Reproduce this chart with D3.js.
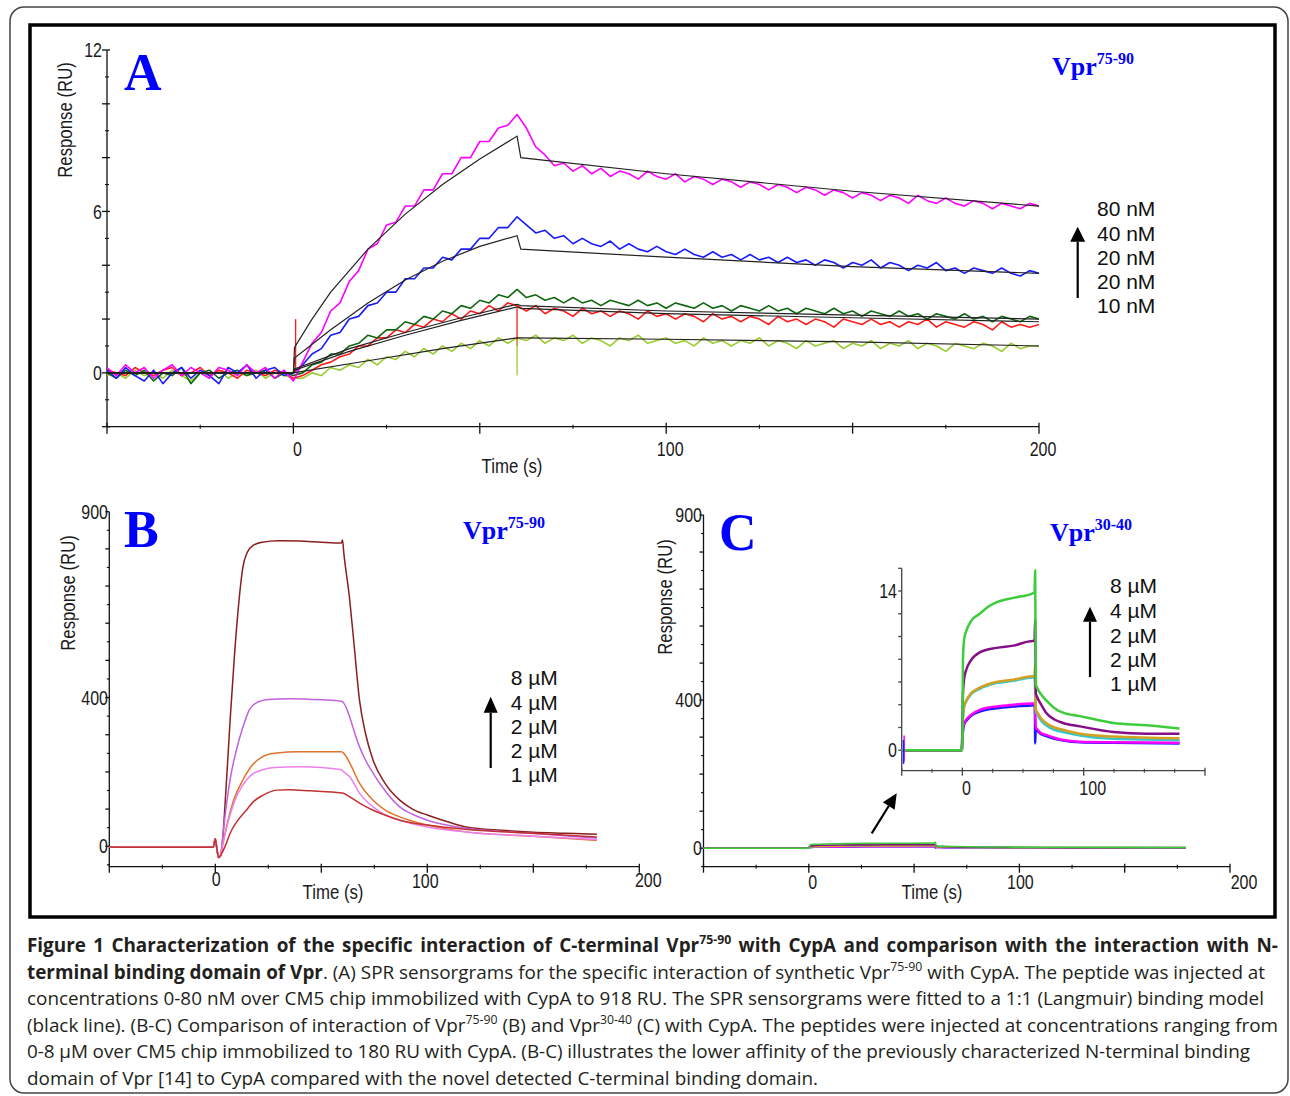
<!DOCTYPE html>
<html><head><meta charset="utf-8">
<script src="https://cdn.jsdelivr.net/npm/d3@7"></script>
<style>body{margin:0;background:#fff}svg{display:block}</style>
</head><body>
<svg id="c" width="1290" height="1096"></svg>
<script>
// ================= DATA =================
// Panel A: time grid (s) and noisy sensorgrams (RU)
const timeA = d3.range(-50, 200.001, 2.5);
const a80 = [0.2,-0.1,0.3,0.0,0.2,-0.2,0.1,0.3,-0.1,0.2,0.0,-0.2,0.2,0.1,-0.1,0.3,0.0,0.2,-0.2,0.1,-0.3,
  0.4,1.1,1.5,2.3,2.6,3.4,3.8,4.6,4.8,5.5,5.6,6.2,6.2,6.8,6.8,7.4,7.4,8.0,8.0,8.6,8.6,9.1,9.2,9.6,
  9.1,8.4,8.1,7.7,7.8,7.5,7.7,7.4, 7.6,7.3,7.5,7.4,7.2,7.5,7.3,7.2, 7.4,7.1,7.3,7.2,7.0,7.2,7.1,6.9,
  7.1,7.0,6.8,7.0,6.9,6.7,6.9,6.8, 6.6,6.8,6.7,6.5,6.7,6.6,6.4,6.6, 6.5,6.3,6.6,6.4,6.3,6.5,6.3,6.2,
  6.4,6.3,6.1,6.3,6.2,6.1,6.3,6.2];
const a40 = [0.1,-0.2,0.2,-0.1,-0.3,0.1,-0.4,0.0,0.2,-0.2,0.1,-0.1,-0.4,0.2,0.0,0.3,-0.2,0.1,0.2,-0.1,0.0,
  0.3,0.7,0.9,1.4,1.5,2.0,2.1,2.5,2.6,3.0,3.0,3.5,3.5,3.9,3.9,4.3,4.2,4.6,4.6,5.0,5.0,5.4,5.4,5.8,
  5.5,5.2,5.3,5.0,5.1,4.8,5.0,4.8, 4.7,4.9,4.6,4.8,4.6,4.5,4.7,4.5, 4.4,4.6,4.4,4.3,4.5,4.3,4.4,4.2,
  4.4,4.2,4.3,4.1,4.3,4.1,4.2,4.0, 4.2,4.1,3.9,4.1,4.0,4.2,3.9,4.1, 4.0,3.8,4.0,3.9,4.1,3.8,3.9,3.7,
  3.9,3.8,3.7,3.9,3.7,3.6,3.8,3.7];
const a20g = [0.0,-0.2,0.1,-0.1,0.1,-0.3,0.0,-0.1,0.2,-0.4,0.0,0.1,-0.2,0.0,0.1,-0.1,0.0,0.1,-0.2,0.0,-0.1,
  0.0,0.3,0.4,0.7,0.7,1.0,1.1,1.4,1.3,1.6,1.6,1.9,1.8,2.1,2.0,2.3,2.2,2.5,2.4,2.7,2.6,2.9,2.8,3.1,
  2.8,2.9,2.7,2.8,2.6,2.8,2.6,2.7, 2.5,2.7,2.6,2.5,2.7,2.5,2.6,2.4, 2.6,2.5,2.4,2.6,2.4,2.5,2.3,2.5,
  2.4,2.3,2.5,2.3,2.4,2.2,2.4,2.3, 2.2,2.4,2.2,2.3,2.1,2.3,2.2,2.1, 2.3,2.1,2.2,2.0,2.2,2.1,2.0,2.2,
  2.0,2.1,1.9,2.1,2.0,1.9,2.1,2.0];
const a20r = [0.1,0.0,-0.1,0.2,0.0,-0.1,0.1,0.2,-0.1,0.0,0.2,-0.1,0.1,0.0,-0.2,0.1,0.0,-0.1,0.1,0.0,-0.2,
  -0.1,0.1,0.3,0.4,0.6,0.7,1.0,1.0,1.3,1.3,1.6,1.5,1.8,1.7,2.0,1.9,2.2,2.0,2.3,2.2,2.5,2.3,2.6,2.5,
  2.3,2.5,2.2,2.4,2.3,2.1,2.4,2.2, 2.3,2.1,2.3,2.2,2.0,2.3,2.1,2.2, 2.0,2.2,2.1,1.9,2.2,2.0,2.1,1.9,
  2.1,2.0,1.8,2.1,1.9,2.0,1.8,2.0, 1.9,1.7,2.0,1.9,1.8,2.0,1.8,1.9, 1.7,1.9,1.8,2.0,1.7,1.9,1.8,1.7,
  1.9,1.8,1.6,1.9,1.7,1.8,1.7,1.8];
const a10 = [-0.1,0.0,-0.2,0.1,-0.1,0.0,-0.2,0.1,-0.1,-0.3,0.0,-0.1,0.1,-0.2,0.0,-0.1,0.1,-0.2,0.0,-0.1,-0.2,
  -0.2,0.0,-0.1,0.2,0.1,0.3,0.2,0.5,0.3,0.6,0.5,0.8,0.6,0.9,0.7,1.0,0.8,1.1,0.9,1.2,1.0,1.3,1.1,1.3,
  1.2,1.4,1.1,1.3,1.2,1.4,1.1,1.3, 1.2,1.0,1.3,1.2,1.4,1.1,1.2,1.3, 1.1,1.2,1.0,1.3,1.1,1.2,1.0,1.2,
  1.1,1.3,1.0,1.2,1.1,0.9,1.2,1.0, 1.1,1.2,0.9,1.1,1.0,1.2,0.9,1.1, 1.0,1.2,0.9,1.1,1.0,0.8,1.1,1.0,
  0.9,1.1,1.0,0.8,1.1,0.9,1.0,1.0];
// Panel A: spikes (time, from, to)
const spikesA = [{key:"a20r", t:0.6, v0:0, v1:2.0}, {key:"a20r", t:60, v0:2.4, v1:1.0}, {key:"a10", t:60, v0:1.2, v1:-0.1}];
// Panel A: 1:1 Langmuir fits [time, RU]
const fit80 = [[-50,0],[0,0],[0.3,0.95],[5,2.0],[10,3.0],[15,3.8],[20,4.6],[30,5.9],[40,7.0],[50,7.95],[60,8.8],[61,8.0],[100,7.4],[150,6.75],[200,6.2]];
const fit40 = [[-50,0],[0,0],[0.3,0.55],[10,1.6],[20,2.6],[30,3.45],[40,4.15],[50,4.7],[60,5.1],[61,4.6],[100,4.3],[150,3.95],[200,3.7]];
const fit20a = [[-50,0],[0,0],[0.3,0.15],[15,0.9],[30,1.5],[45,2.05],[60,2.55],[61,2.5],[100,2.3],[150,2.15],[200,2.0]];
const fit20b = [[-50,0],[0,0],[0.3,0.1],[15,0.8],[30,1.4],[45,1.95],[60,2.45],[61,2.4],[100,2.2],[150,2.05],[200,1.9]];
const fit10 = [[-50,0],[0,0],[20,0.45],[40,0.9],[60,1.3],[61,1.3],[100,1.25],[150,1.15],[200,1.0]];
const legendA = ["80 nM","40 nM","20 nM","20 nM","10 nM"];

// Panel B: Vpr75-90 0-8 µM [time, RU]
const baseB = [[-50,-2],[-30,-3],[-10,-3],[-1,-3],[0,20],[0.7,-5],[1.5,-30],[2.5,-25]];
const b8 = baseB.concat([[3,-10],[5,150],[7,340],[9,510],[11,650],[13,750],[15,790],[18,810],[22,818],[30,822],[40,821],[50,818],[59.5,816],[60,824],[60.6,790],[63.4,663],[65.5,540],[68,394],[71,300],[74.4,232],[80,170],[87,124],[93,100],[100,84],[110,65],[119,51],[135,43],[150,38],[165,35],[180,32]]);
const b4 = baseB.concat([[3,0],[5,100],[7,180],[10,260],[13,320],[16,366],[20,388],[25,395],[35,397],[50,394],[59.5,390],[60.6,385],[63.4,348],[66,300],[68,268],[71,230],[74.4,197],[80,150],[87,106],[93,86],[100,70],[119,48],[135,40],[150,34],[165,28],[180,22]]);
const b2o = baseB.concat([[3,-10],[6,70],[9,130],[13,178],[17,215],[22,240],[28,250],[40,254],[59.5,254],[60.6,250],[63.4,224],[68,170],[74.4,124],[80,98],[87,79],[100,57],[119,38],[150,27],[180,16]]);
const b2p = baseB.concat([[3,-10],[6,65],[9,120],[13,165],[17,192],[22,205],[28,212],[40,214],[50,212],[59.5,206],[60.6,200],[63.4,187],[68,143],[74.4,106],[80,85],[87,70],[100,52],[119,38],[150,27],[180,18]]);
const b1 = baseB.concat([[3,-20],[5,5],[7,35],[10,65],[14.6,97],[18,120],[22.4,137],[29,151],[35,152],[45,149],[55,146],[60,143],[63.4,133],[68,116],[74.4,97],[80,84],[87,70],[100,57],[119,45],[150,35],[180,25]]);
const legendBC = ["8 µM","4 µM","2 µM","2 µM","1 µM"];

// Panel C: Vpr30-40 0-8 µM [time, RU]
const c8 = [[-50,0],[-0.5,0],[0,0.2],[0.5,8.0],[1.5,9.8],[3.3,10.5],[7.4,11.4],[14.3,12.0],[21,12.6],[28,13.0],[42,13.4],[58,13.8],[59.5,13.9],[60,15.8],[60.6,5.8],[62,5.4],[65,4.9],[69,4.4],[76,3.7],[83,3.3],[97,3.0],[110,2.7],[124.5,2.4],[152,2.2],[179,1.9]];
const c4 = [[-50,0],[-0.5,0],[0.5,5.0],[1.5,6.3],[3.3,7.1],[7,7.9],[14.3,8.6],[28,9.0],[42,9.2],[58,9.6],[59.5,9.6],[60,11.5],[60.6,5.0],[62,4.6],[65,4.0],[69,3.3],[76,2.7],[83,2.4],[97,2.1],[124.5,1.6],[152,1.45],[179,1.45]];
const c2g = [[-50,0],[-0.5,0],[0.5,3.0],[1.5,3.9],[3.3,4.4],[7,5.0],[14.3,5.5],[28,6.0],[42,6.2],[58,6.5],[59.5,6.5],[60,7.5],[60.6,3.6],[62,3.3],[65,2.8],[69,2.4],[76,2.0],[83,1.8],[97,1.45],[124.5,1.2],[179,1.05]];
const c2c = [[-50,0],[-0.5,0],[0.5,2.9],[1.5,3.8],[3.3,4.3],[7,4.9],[14.3,5.4],[28,5.9],[42,6.1],[58,6.4],[59.5,6.4],[60.6,3.4],[62,3.1],[65,2.6],[69,2.2],[76,1.8],[83,1.6],[97,1.3],[124.5,1.0],[179,0.9]];
const c1m = [[-50,0],[-0.5,0],[0.5,1.8],[1.5,2.4],[3.3,2.7],[7,3.1],[14.3,3.55],[28,3.85],[42,4.0],[58,4.1],[59.5,4.1],[60.6,2.0],[62,1.8],[65,1.5],[69,1.35],[76,1.1],[83,0.9],[97,0.75],[124.5,0.7],[179,0.65]];
const c1b = [[-50,0],[-0.5,0],[0.5,1.7],[1.5,2.3],[3.3,2.6],[7,3.0],[14.3,3.4],[28,3.7],[42,3.85],[58,3.95],[59.8,4.0],[60,0.6],[60.5,1.9],[62,1.7],[65,1.4],[69,1.25],[76,1.0],[83,0.85],[97,0.7],[124.5,0.65],[179,0.6]];
const spikesC = [{key:"c1m", t:-48, v0:-1.0, v1:1.3}, {key:"c1b", t:-48.5, v0:-1.2, v1:0.9}];

// ================= RENDER =================
const svg = d3.select("#c");
svg.append("rect").attr("width",1290).attr("height",1096).attr("fill","#fff");
svg.append("rect").attr("x",10).attr("y",7).attr("width",1278).attr("height",1086).attr("rx",14)
  .attr("fill","none").attr("stroke","#444").attr("stroke-width",1.5);
svg.append("rect").attr("x",30).attr("y",25).attr("width",1245).attr("height",892)
  .attr("fill","none").attr("stroke","#000").attr("stroke-width",3.5);

const SANS = "'Liberation Sans', Arial, sans-serif";
const SERIF = "'Liberation Serif', 'Times New Roman', serif";

function label(g, x, y, s, o = {}) {
  const t = g.append("text")
    .attr("transform", `translate(${x},${y})` + (o.rot ? ` rotate(${o.rot})` : "") + ` scale(${o.sx || 1},1)`)
    .attr("text-anchor", o.anchor || "middle")
    .attr("font-family", o.family || SANS).attr("font-size", o.size || 20)
    .attr("font-weight", o.weight || "normal").attr("fill", o.fill || "#1a1a1a")
    .text(s);
  if (o.dy) t.attr("dy", o.dy);
  return t;
}
function axes(g, x, y, o) {
  const col = o.color || "#111";
  const [x0, x1] = x.domain(), [y0, y1] = y.domain();
  const ya = y(o.xAxisAt !== undefined ? o.xAxisAt : y0);
  const xa = x(x0);
  g.append("line").attr("x1", x(x0)).attr("x2", x(x1)).attr("y1", ya).attr("y2", ya).attr("stroke", col).attr("stroke-width", 1.3);
  g.append("line").attr("x1", xa).attr("x2", xa).attr("y1", y(y0)).attr("y2", y(y1)).attr("stroke", col).attr("stroke-width", 1.3);
  o.xMajor.forEach(v => g.append("line").attr("x1", x(v)).attr("x2", x(v)).attr("y1", ya - o.xMajUp).attr("y2", ya + o.xMajDn).attr("stroke", col).attr("stroke-width", 1.3));
  o.xMinor.forEach(v => g.append("line").attr("x1", x(v)).attr("x2", x(v)).attr("y1", ya - o.xMinUp).attr("y2", ya + o.xMinDn).attr("stroke", col).attr("stroke-width", 1.1));
  o.yMajor.forEach(v => g.append("line").attr("y1", y(v)).attr("y2", y(v)).attr("x1", xa - o.yMajL).attr("x2", xa + o.yMajR).attr("stroke", col).attr("stroke-width", 1.3));
  o.yMinor.forEach(v => g.append("line").attr("y1", y(v)).attr("y2", y(v)).attr("x1", xa - o.yMinL).attr("x2", xa + o.yMinR).attr("stroke", col).attr("stroke-width", 1.1));
}
function arrow(g, x1, y1, x2, y2, len, hw) {
  const dx = x2 - x1, dy = y2 - y1, L = Math.hypot(dx, dy), ux = dx / L, uy = dy / L;
  const bx = x2 - ux * len, by = y2 - uy * len;
  g.append("line").attr("x1", x1).attr("y1", y1).attr("x2", bx).attr("y2", by).attr("stroke", "#000").attr("stroke-width", 2.2);
  g.append("path").attr("d", `M${x2},${y2}L${bx - uy * hw},${by + ux * hw}L${bx + uy * hw},${by - ux * hw}Z`).attr("fill", "#000");
}
function vprTitle(g, x, y, sup) {
  const t = g.append("text").attr("x", x).attr("y", y).attr("font-family", SERIF).attr("font-weight", "bold")
    .attr("fill", "#0000ff").attr("font-size", 26);
  t.append("tspan").text("Vpr");
  t.append("tspan").attr("font-size", 16).attr("dy", -11).text(sup);
}
function bigLetter(g, x, y, s) {
  g.append("text").attr("x", x).attr("y", y).attr("font-family", SERIF).attr("font-weight", "bold")
    .attr("font-size", 52).attr("fill", "#0000ff").text(s);
}
function legend(g, x, ys, items, size) {
  items.forEach((s, i) => g.append("text").attr("x", x).attr("y", ys[i]).attr("font-family", SANS)
    .attr("font-size", size).attr("fill", "#111").text(s));
}

// ---------- Panel A ----------
const gA = svg.append("g");
const xA = d3.scaleLinear().domain([-50, 200]).range([107, 1039]);
const yA = d3.scaleLinear().domain([-2, 12]).range([426.7, 50]);
axes(gA, xA, yA, {xMajor:[-50,0,50,100,150,200], xMinor:[-25,25,75,125,175], xMajUp:4, xMajDn:7, xMinUp:2, xMinDn:2,
  yMajor:[-2,0,2,4,6,8,10,12], yMinor:[-1,1,3,5,7,9,11], yMajL:5, yMajR:3, yMinL:2, yMinR:2});
[12,6,0].forEach(v => label(gA, 102, yA(v), v, {anchor:"end", sx:0.8, dy:"0.36em"}));
[0,100,200].forEach(v => label(gA, xA(v) + 4, 456, v, {sx:0.8}));
label(gA, 512, 473, "Time (s)", {sx:0.84});
label(gA, 65, 120, "Response (RU)", {rot:-90, sx:0.84, dy:"0.36em"});

const seriesA = [
  {key:"a10", v:a10, c:"#99cc33"},
  {key:"a20r", v:a20r, c:"#ff1a1a"},
  {key:"a20g", v:a20g, c:"#116611"},
  {key:"a40", v:a40, c:"#1a1aff"},
  {key:"a80", v:a80, c:"#ff00ff"}
];
const lineA = d3.line().x(d => xA(d[0])).y(d => yA(d[1]));
seriesA.forEach(s => {
  const pts = timeA.map((t, i) => [t, s.v[i]]).filter(d => d[1] !== undefined);
  gA.append("path").attr("d", lineA(pts)).attr("fill", "none").attr("stroke", s.c).attr("stroke-width", 1.6).attr("stroke-linejoin", "round");
});
spikesA.forEach(sp => {
  const c = seriesA.find(s => s.key === sp.key).c;
  gA.append("line").attr("x1", xA(sp.t)).attr("x2", xA(sp.t)).attr("y1", yA(sp.v0)).attr("y2", yA(sp.v1)).attr("stroke", c).attr("stroke-width", 1.3);
});
[fit10, fit20b, fit20a, fit40, fit80].forEach(f => {
  gA.append("path").attr("d", lineA(f)).attr("fill", "none").attr("stroke", "#222").attr("stroke-width", 1.2);
});
bigLetter(gA, 124, 90, "A");
vprTitle(gA, 1052, 75, "75-90");
legend(gA, 1097, [216, 240.5, 264.7, 288.7, 313], legendA, 21);
arrow(gA, 1077.7, 298, 1077.7, 226.7, 15, 7.5);

// ---------- Panel B ----------
const gB = svg.append("g");
const xB = d3.scaleLinear().domain([-50, 200]).range([109.3, 639.3]);
const yB = d3.scaleLinear().domain([-55, 900]).range([866.7, 511.7]);
axes(gB, xB, yB, {xMajor:[-50,0,50,100,150,200], xMinor:[-25,25,75,125,175], xMajUp:3, xMajDn:6, xMinUp:2, xMinDn:2,
  yMajor:[0,100,200,300,400,500,600,700,800,900], yMinor:[-50,50,150,250,350,450,550,650,750,850], yMajL:4, yMajR:0, yMinL:2.5, yMinR:0});
[900,400,0].forEach(v => label(gB, 108, yB(v), v, {anchor:"end", sx:0.8, dy:"0.36em"}));
label(gB, xB(0) + 1, 886, 0, {sx:0.8});
label(gB, xB(100) - 2, 888, 100, {sx:0.8});
label(gB, xB(200) + 9, 887, 200, {sx:0.8});
label(gB, 333, 899, "Time (s)", {sx:0.84});
label(gB, 68, 593, "Response (RU)", {rot:-90, sx:0.84, dy:"0.36em"});
const lineB = d3.line().x(d => xB(d[0])).y(d => yB(d[1])).curve(d3.curveMonotoneX);
[{v:b8, c:"#8b1e1e"}, {v:b4, c:"#c062dd"}, {v:b2o, c:"#e0722a"}, {v:b2p, c:"#ee80ee"}, {v:b1, c:"#c23232"}].forEach(s => {
  gB.append("path").attr("d", lineB(s.v)).attr("fill", "none").attr("stroke", s.c).attr("stroke-width", 1.5);
});
bigLetter(gB, 124, 546.7, "B");
vprTitle(gB, 463, 539, "75-90");
legend(gB, 510.7, [685, 709.5, 734, 758.3, 782], legendBC, 21);
arrow(gB, 490.7, 768, 490.7, 696.7, 16, 7);

// ---------- Panel C ----------
const gC = svg.append("g");
const xC = d3.scaleLinear().domain([-50, 200]).range([703.5, 1230]);
const yC = d3.scaleLinear().domain([-50, 900]).range([866.7, 515]);
axes(gC, xC, yC, {xMajor:[-50,0,50,100,150,200], xMinor:[-25,25,75,125,175], xMajUp:3, xMajDn:6, xMinUp:2, xMinDn:2,
  yMajor:[0,100,200,300,400,500,600,700,800,900], yMinor:[-50,50,150,250,350,450,550,650,750,850], yMajL:4, yMajR:0, yMinL:2.5, yMinR:0});
[900,400,0].forEach(v => label(gC, 702, yC(v), v, {anchor:"end", sx:0.8, dy:"0.36em"}));
label(gC, xC(0) + 4, 889, 0, {sx:0.8});
label(gC, xC(100) + 1, 889, 100, {sx:0.8});
label(gC, xC(200) + 14, 889, 200, {sx:0.8});
label(gC, 932, 899, "Time (s)", {sx:0.84});
label(gC, 665, 597, "Response (RU)", {rot:-90, sx:0.84, dy:"0.36em"});
const seriesC = [
  {key:"c1b", v:c1b, c:"#1a1aff"}, {key:"c1m", v:c1m, c:"#ff00ff"},
  {key:"c2c", v:c2c, c:"#33c6cc"}, {key:"c2g", v:c2g, c:"#d4a020"},
  {key:"c4", v:c4, c:"#860f86"}, {key:"c8", v:c8, c:"#3ccc3c"}
];
const lineCm = d3.line().x(d => xC(d[0])).y(d => yC(d[1])).curve(d3.curveMonotoneX);
seriesC.forEach(s => gC.append("path").attr("d", lineCm(s.v)).attr("fill", "none").attr("stroke", s.c).attr("stroke-width", 1.6));
bigLetter(gC, 719, 550, "C");
vprTitle(gC, 1050, 541, "30-40");
arrow(gC, 871.7, 833.3, 896.7, 793.3, 15, 7);

// inset
const gI = svg.append("g");
const xI = d3.scaleLinear().domain([-50, 200]).range([901.7, 1205]);
const yI = d3.scaleLinear().domain([-1.8, 16]).range([770.7, 568.3]);
axes(gI, xI, yI, {color:"#444", xMajor:[-50,0,100,200], xMinor:[-25,25,50,75,125,150,175], xMajUp:3, xMajDn:5, xMinUp:2, xMinDn:2,
  yMajor:[0,2,4,6,8,10,12,14,16], yMinor:[], yMajL:3.5, yMajR:0, yMinL:0, yMinR:0});
label(gI, 897, yI(14), 14, {anchor:"end", sx:0.8, dy:"0.36em"});
label(gI, 897, yI(0), 0, {anchor:"end", sx:0.8, dy:"0.36em"});
label(gI, xI(0) + 4, 795, 0, {sx:0.8});
label(gI, xI(100) + 9, 795, 100, {sx:0.8});
const lineI = d3.line().x(d => xI(d[0])).y(d => yI(d[1])).curve(d3.curveMonotoneX);
seriesC.forEach(s => gI.append("path").attr("d", lineI(s.v)).attr("fill", "none").attr("stroke", s.c).attr("stroke-width", 2.5));
spikesC.forEach(sp => {
  const c = seriesC.find(s => s.key === sp.key).c;
  gI.append("line").attr("x1", xI(sp.t)).attr("x2", xI(sp.t)).attr("y1", yI(sp.v0)).attr("y2", yI(sp.v1)).attr("stroke", c).attr("stroke-width", 1.5);
});
legend(gI, 1110, [593.3, 618, 642.5, 666.5, 690.5], legendBC, 21);
arrow(gI, 1090, 677, 1090, 606.7, 15, 7);

// ---------- Caption ----------
const capLines = [
  [{t:"Figure 1 Characterization of the specific interaction of C-terminal Vpr",b:1},{t:"75-90",b:1,sup:1},{t:" with CypA and comparison with the interaction with N-",b:1}],
  [{t:"terminal binding domain of Vpr",b:1},{t:". (A) SPR sensorgrams for the specific interaction of synthetic Vpr"},{t:"75-90",sup:1},{t:" with CypA. The peptide was injected at"}],
  [{t:"concentrations 0-80 nM over CM5 chip immobilized with CypA to 918 RU. The SPR sensorgrams were fitted to a 1:1 (Langmuir) binding model"}],
  [{t:"(black line). (B-C) Comparison of interaction of Vpr"},{t:"75-90",sup:1},{t:" (B) and Vpr"},{t:"30-40",sup:1},{t:" (C) with CypA. The peptides were injected at concentrations ranging from"}],
  [{t:"0-8 µM over CM5 chip immobilized to 180 RU with CypA. (B-C) illustrates the lower affinity of the previously characterized N-terminal binding"}],
  [{t:"domain of Vpr [14] to CypA compared with the novel detected C-terminal binding domain."}]
];
const capEnds = [1278, 1265, 1264, 1278, 1250, 818];
const capBase = [952, 978.5, 1005, 1031.5, 1058, 1084.5];
const CAPF = "'Open Sans', 'Noto Sans', sans-serif";
const capG = svg.append("g");
const probe = capG.append("text").attr("font-family", CAPF).attr("font-size", 20).text(capLines[2][0].t);
const capSize = 20 * (capEnds[2] - 27) / probe.node().getComputedTextLength();
probe.remove();
capLines.forEach((segs, i) => {
  const t = capG.append("text").attr("x", 27).attr("y", capBase[i]).attr("font-family", CAPF)
    .attr("font-size", capSize).attr("fill", "#231f20");
  let up = false;
  segs.forEach(s => {
    const ts = t.append("tspan").text(s.t).attr("font-weight", s.b ? "bold" : "normal");
    if (s.sup) { ts.attr("font-size", capSize * 0.65).attr("dy", -capSize * 0.42); up = true; }
    else if (up) { ts.attr("dy", capSize * 0.42); up = false; }
  });
  const len = t.node().getComputedTextLength();
  const spaces = segs.map(s => s.t).join("").split(" ").length - 1;
  t.attr("word-spacing", ((capEnds[i] - 27 - len) / spaces).toFixed(2));
});
</script>
</body></html>
